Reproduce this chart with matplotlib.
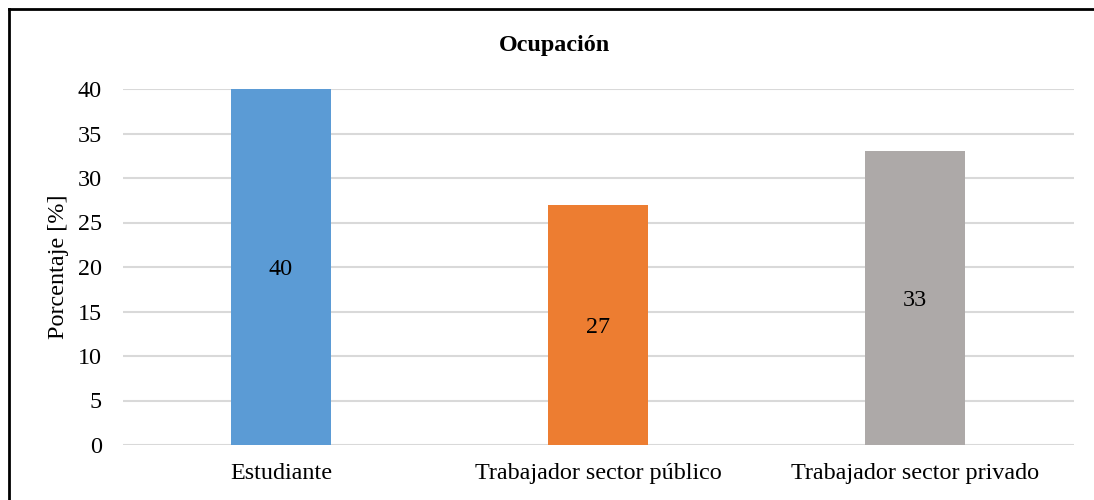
import matplotlib
matplotlib.use("Agg")
import matplotlib.pyplot as plt
from matplotlib.lines import Line2D

categories = ["Estudiante", "Trabajador sector público", "Trabajador sector privado"]
values = [40, 27, 33]
colors = ["#5B9BD5", "#ED7D31", "#ADA9A8"]
yticks = [0, 5, 10, 15, 20, 25, 30, 35, 40]

plt.rcParams['font.family'] = ['Liberation Serif', 'DejaVu Serif']
FS = 17.4

fig = plt.figure(figsize=(10.94, 5.0), dpi=100)
ax = fig.add_axes([122.5/1094, 1-445/500, (1073.5-122.5)/1094, (445-89)/500])

x = list(range(len(categories)))
bars = ax.bar(x, values, width=100/317, color=colors, zorder=3)
for xi, v in zip(x, values):
    ax.text(xi, v/2, f"{v}", ha="center", va="center_baseline", fontsize=FS, color="#000000", zorder=4)

ax.set_xlim(-0.5, len(categories)-0.5)
ax.set_ylim(0, 40)
ax.set_yticks(yticks)
ax.set_xticks(x)
ax.set_xticklabels(categories, fontsize=FS)
ax.tick_params(axis='y', labelsize=FS, length=0, pad=15)
ax.tick_params(axis='x', length=0, pad=13)
for s in ax.spines.values():
    s.set_visible(False)
ax.yaxis.grid(True, color="#D9D9D9", linewidth=1.5, zorder=0)
ax.set_axisbelow(True)
ax.set_ylabel("Porcentaje [%]", fontsize=FS, labelpad=6)

fig.text(555/1094, 1-45/500, "Ocupación", ha="center", va="center", fontsize=FS, fontweight="bold")

# frame
fig.add_artist(Line2D([9/1094, 9/1094], [0, 1-9/500], transform=fig.transFigure, color="black", linewidth=2))
fig.add_artist(Line2D([9/1094, 1093/1094], [1-9/500, 1-9/500], transform=fig.transFigure, color="black", linewidth=2))

fig.savefig("out.png", dpi=100)
